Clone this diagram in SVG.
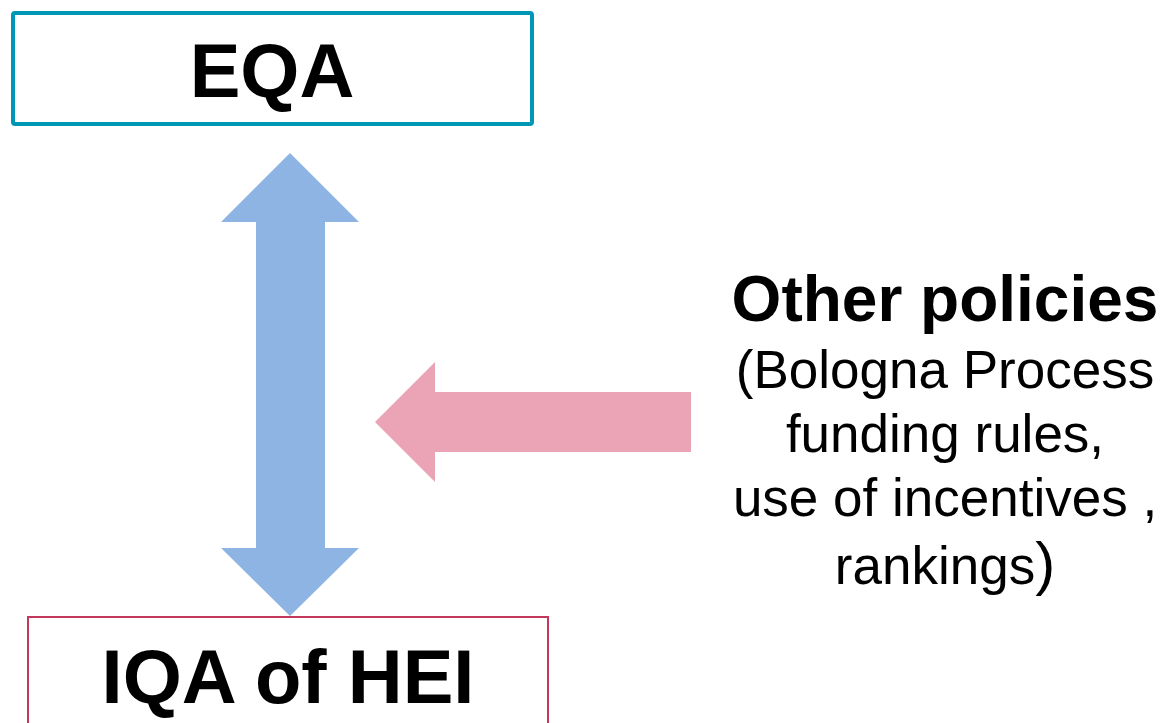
<svg xmlns="http://www.w3.org/2000/svg" width="1162" height="723" viewBox="0 0 1162 723">
<style>
.big{font-family:"Liberation Sans",Arial,sans-serif;font-weight:bold;font-size:76px;fill:#000;text-anchor:middle}
.hd{font-family:"Liberation Sans",Arial,sans-serif;font-weight:bold;font-size:64px;fill:#000;text-anchor:middle}
.bd{font-family:"Liberation Sans",Arial,sans-serif;font-size:53px;fill:#000;text-anchor:middle}
</style>
<rect width="1162" height="723" fill="#fff"/>
<g id="connectors">
<polygon id="double-arrow" fill="#8eb4e3" points="290,153 359,222 325,222 325,548 359,548 290,616 221,548 256,548 256,222 221,222"/>
<polygon id="policy-arrow" fill="#eaa4b5" points="375,422 435,362 435,392 691,392 691,452 435,452 435,482"/>
</g>
<g id="eqa">
<rect x="13" y="13" width="519" height="111" fill="#fff" stroke="#0097b6" stroke-width="4" rx="2"/>
<text class="big" x="272" y="97">EQA</text>
</g>
<g id="iqa">
<rect x="28" y="617" width="520" height="120" fill="#fff" stroke="#c4385c" stroke-width="2"/>
<text class="big" x="288" y="703">IQA of HEI</text>
</g>
<g id="other-policies">
<text class="hd" x="945" y="321">Other policies</text>
<text class="bd" x="945" y="388">(Bologna Process</text>
<text class="bd" x="945" y="452">funding rules,</text>
<text class="bd" x="945" y="516">use of incentives ,</text>
<text class="bd" x="945" y="584">rankings<tspan font-size="60">)</tspan></text>
</g>
</svg>
